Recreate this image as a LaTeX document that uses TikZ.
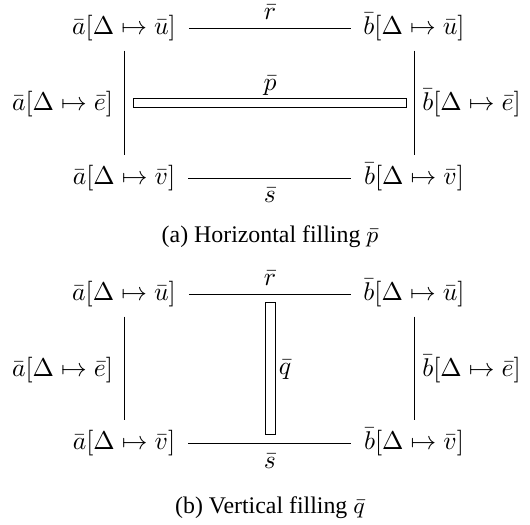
\documentclass[tikz,border=0pt]{standalone}
\usepackage[no-math]{fontspec}
\setmainfont{Liberation Serif}
\begin{document}
\begin{tikzpicture}[x=0.39pt,y=-0.39pt,
  obj/.style={inner sep=3.33pt,text height=7.5pt,text depth=2.5pt},
  lbl/.style={inner sep=0pt},
  captext/.style={inner sep=0pt,font=\fontsize{9.3}{11}\selectfont},
  conn/.style={line width=0.32pt,shorten <=1.5pt,shorten >=1.5pt},
  vconn/.style={line width=0.32pt,shorten <=0.3pt,shorten >=0.3pt},
  fill2/.style={line width=0.32pt}]
\useasboundingbox (0,0) rectangle (530,525);
% ---------- (a) ----------
\node[obj] (atl) at (124,28) {$\bar a[\Delta\mapsto\bar u]$};
\node[obj] (atr) at (414,28) {$\bar b[\Delta\mapsto\bar u]$};
\node[obj] (aml) at (62.5,104) {$\bar a[\Delta\mapsto\bar e]$};
\node[obj] (amr) at (471.5,104) {$\bar b[\Delta\mapsto\bar e]$};
\node[obj] (abl) at (124,178) {$\bar a[\Delta\mapsto\bar v]$};
\node[obj] (abr) at (414,178) {$\bar b[\Delta\mapsto\bar v]$};
\draw[conn] (atl) -- (atr);
\draw[conn] (abl) -- (abr);
\draw[vconn] (atl) -- (abl);
\draw[vconn] (atr) -- (abr);
\node[lbl] (ar) at (270,12) {$\bar r$};
\node[lbl] (as) at (270,195) {$\bar s$};
\coordinate (ap1) at (133,98);
\coordinate (ap2) at (406,107);
\draw[fill2] (ap1) rectangle (ap2);
\node[lbl] (ap) at (270,86) {$\bar p$};
\node[captext] (capa) at (270,237) {(a) Horizontal filling $\bar p$};
% ---------- (b) ----------
\node[obj] (btl) at (124,294) {$\bar a[\Delta\mapsto\bar u]$};
\node[obj] (btr) at (414,294) {$\bar b[\Delta\mapsto\bar u]$};
\node[obj] (bml) at (62.5,370) {$\bar a[\Delta\mapsto\bar e]$};
\node[obj] (bmr) at (471.5,370) {$\bar b[\Delta\mapsto\bar e]$};
\node[obj] (bbl) at (124,443) {$\bar a[\Delta\mapsto\bar v]$};
\node[obj] (bbr) at (414,443) {$\bar b[\Delta\mapsto\bar v]$};
\draw[conn] (btl) -- (btr);
\draw[conn] (bbl) -- (bbr);
\draw[vconn] (btl) -- (bbl);
\draw[vconn] (btr) -- (bbr);
\node[lbl] (br) at (270,278) {$\bar r$};
\node[lbl] (bs) at (270,461) {$\bar s$};
\coordinate (bq1) at (265,302);
\coordinate (bq2) at (275,434);
\draw[fill2] (bq1) rectangle (bq2);
\node[lbl] (bq) at (285,370) {$\bar q$};
\node[captext] (capb) at (270,508) {(b) Vertical filling $\bar q$};
\end{tikzpicture}
\end{document}
